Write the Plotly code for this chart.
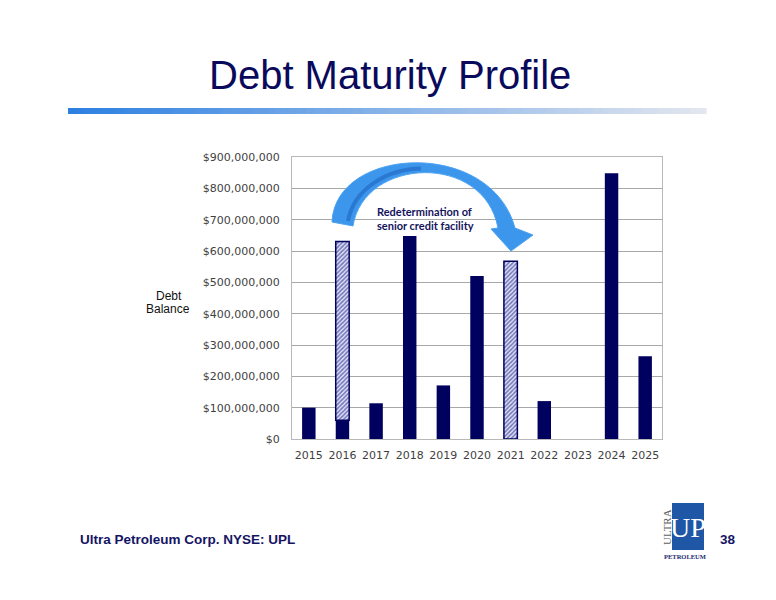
import plotly.graph_objects as go

# ---------------- data ----------------
years = ["2015", "2016", "2017", "2018", "2019", "2020", "2021", "2022", "2023", "2024", "2025"]
debt_balance = [100e6, 60e6, 114e6, 648e6, 171e6, 520e6, 0, 121e6, 0, 848e6, 264e6]
credit_facility = [None, 570e6, None, None, None, None, 567e6, None, None, None, None]
credit_facility_base = [None, 60e6, None, None, None, None, 0, None, None, None, None]

W, H = 776, 600
OFF = 8  # page body margin
L, R, T, B = 292, 662, 157, 439  # plot area in screen pixels

def px(x):
    return (x - L) / (R - L)

def py(y):
    return (B - y) / (B - T)

NAVY = "#00005e"

fig = go.Figure()
fig.add_trace(go.Bar(
    x=years, y=debt_balance, width=0.4,
    marker=dict(color=NAVY, line=dict(width=0)),
    name="Debt Balance", showlegend=False,
))
fig.add_trace(go.Bar(
    x=years, y=credit_facility, base=credit_facility_base, width=0.4,
    marker=dict(color="white", line=dict(color=NAVY, width=1.5),
                pattern=dict(shape="/", fgcolor="#0a0a6a", bgcolor="#e4e7ff", size=3, solidity=0.55)),
    name="Senior credit facility", showlegend=False,
))

shapes = []
# gradient rule under title
n = 80
x0g, x1g = 68, 706
c0 = (45, 128, 226)
c1 = (226, 230, 238)
for i in range(n):
    f = i / (n - 1)
    col = tuple(int(round(c0[k] + (c1[k] - c0[k]) * f)) for k in range(3))
    xa = x0g + (x1g - x0g) * i / n
    xb = x0g + (x1g - x0g) * (i + 1) / n + 0.6
    shapes.append(dict(type="rect", xref="paper", yref="paper",
                       x0=px(xa), x1=px(xb), y0=py(114), y1=py(108),
                       fillcolor="rgb(%d,%d,%d)" % col, line=dict(width=0), layer="above"))

def P(x, y):
    return "%.5f,%.5f" % (px(x), py(y))

# curved arrow
arrow_path = ("M " + P(332, 222) +
              " C " + P(335, 146) + " " + P(491, 138) + " " + P(515, 228) +
              " L " + P(533, 235) + " L " + P(511, 251) + " L " + P(491, 229) +
              " L " + P(498, 228) +
              " C " + P(484, 152) + " " + P(364, 157) + " " + P(353, 226) + " Z")
shapes.append(dict(type="path", xref="paper", yref="paper", path=arrow_path,
                   fillcolor="#3c96ec", line=dict(color="#4aa3f2", width=1), layer="above"))
dark_path = ("M " + P(421, 168.5) + " C " + P(388, 169) + " " + P(354, 188) + " " + P(348, 221))
shapes.append(dict(type="path", xref="paper", yref="paper", path=dark_path,
                   line=dict(color="#2a78d2", width=4), layer="above"))

# logo box
shapes.append(dict(type="rect", xref="paper", yref="paper",
                   x0=px(672), x1=px(704), y0=py(550), y1=py(503),
                   fillcolor="#1f56a5", line=dict(width=0), layer="above"))

annotations = [
    dict(text="Debt Maturity Profile", x=px(390), y=py(75), xref="paper", yref="paper",
         showarrow=False, xanchor="center", yanchor="middle",
         font=dict(family="Liberation Sans, Arial", size=40, color="#0a0a5c")),
    dict(text="Debt", x=px(169), y=py(296), xref="paper", yref="paper",
         showarrow=False, xanchor="center", yanchor="middle",
         font=dict(family="Liberation Sans, Arial", size=12, color="#111111")),
    dict(text="Balance", x=px(168), y=py(309), xref="paper", yref="paper",
         showarrow=False, xanchor="center", yanchor="middle",
         font=dict(family="Liberation Sans, Arial", size=12, color="#111111")),
    dict(text="<b>Redetermination of<br>senior credit facility</b>", x=px(425), y=py(218),
         xref="paper", yref="paper", showarrow=False, xanchor="center", yanchor="middle",
         align="left", font=dict(family="Lato", size=11, color="#14145c")),
    dict(text="<b>Ultra Petroleum Corp. NYSE: UPL</b>", x=px(78), y=py(539),
         xref="paper", yref="paper", showarrow=False, xanchor="left", yanchor="middle",
         font=dict(family="Liberation Sans, Arial", size=13.5, color="#141464")),
    dict(text="<b>38</b>", x=px(728), y=py(539), xref="paper", yref="paper",
         showarrow=False, xanchor="center", yanchor="middle",
         font=dict(family="Liberation Sans, Arial", size=13.5, color="#141464")),
    dict(text="UP", x=px(688), y=py(527), xref="paper", yref="paper",
         showarrow=False, xanchor="center", yanchor="middle",
         font=dict(family="Liberation Serif", size=28, color="white")),
    dict(text="ULTRA", x=px(667), y=py(527), xref="paper", yref="paper", textangle=-90,
         showarrow=False, xanchor="center", yanchor="middle",
         font=dict(family="Liberation Serif", size=11, color="#606060")),
    dict(text="<b>PETROLEUM</b>", x=px(685), y=py(556), xref="paper", yref="paper",
         showarrow=False, xanchor="center", yanchor="middle",
         font=dict(family="Liberation Serif", size=6.5, color="#1a2a6e")),
]

fig.update_layout(
    width=W, height=H, autosize=False,
    margin=dict(l=L - OFF, r=W - (R - OFF), t=T - OFF, b=H - (B - OFF), pad=0),
    paper_bgcolor="white", plot_bgcolor="white",
    barmode="overlay", bargap=0.6,
    showlegend=False,
    shapes=shapes, annotations=annotations,
    xaxis=dict(type="category", categoryorder="array", categoryarray=years,
               showgrid=False, showline=True, mirror=True, linecolor="#b8b8b8", linewidth=1,
               ticks="", ticklabelstandoff=6,
               tickfont=dict(family="DejaVu Sans", size=11, color="#3f3f3f")),
    yaxis=dict(range=[0, 900e6], dtick=100e6, tick0=0, tickformat="$,.0f",
               showgrid=True, gridcolor="#a8a8a8", gridwidth=1,
               showline=True, mirror=True, linecolor="#b8b8b8", linewidth=1,
               zeroline=False, ticks="", ticklabelstandoff=9,
               tickfont=dict(family="DejaVu Sans", size=11, color="#3f3f3f")),
)

fig.write_html("out.html")
